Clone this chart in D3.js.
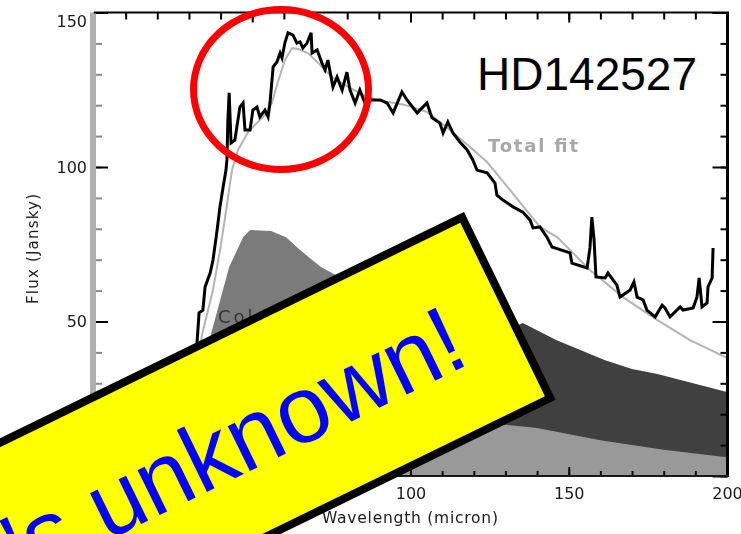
<!DOCTYPE html>
<html>
<head>
<meta charset="utf-8">
<script src="https://cdn.jsdelivr.net/npm/d3@7"></script>
<style>
  html, body { margin: 0; padding: 0; background: #fff; }
  svg { display: block; }
</style>
</head>
<body>
<svg id="chart" width="741" height="534"></svg>
<script>
// Observed far-infrared spectrum of HD142527 (wavelength in micron, flux in Jansky)
const specWave = [30, 32, 33.2, 34.4, 35.1, 36.7, 37.6, 38.9, 39.8, 40.8, 41.7, 42.0, 42.3, 42.7, 43.3, 44.5, 46.1, 47.1, 47.7, 49.3,
  50.2, 51.5, 52.4, 54.0, 55.0, 55.6, 56.6, 57.8, 58.8, 59.4, 60.3, 61.3, 62.9, 64.1, 65.1, 66.0, 67.3, 68.6, 68.9, 70.5,
  72.0, 73.0, 73.9, 75.5, 76.8, 78.4, 79.9, 80.9, 82.5, 84.0, 85.6, 87.8, 90.4, 92.6, 94.5, 97.3, 98.9, 102.1, 105.2, 106.8,
  109.3, 110.3, 111.8, 113.4, 115.6, 117.9, 119.7, 121.0, 124.2, 126.7, 127.3, 129.2, 132.4, 135.5, 137.8, 138.7, 140.9, 143.1, 144.7, 150.4,
  151.0, 155.8, 156.7, 157.3, 158.0, 158.6, 161.5, 162.4, 165.2, 166.2, 169.4, 170.6, 171.6, 173.5, 174.7, 177.3, 179.5, 180.4, 182.0, 185.2,
  186.1, 189.3, 190.5, 191.2, 192.1, 193.7, 194.0, 195.3, 195.6];
const specFlux = [15, 35, 52.8, 53.7, 61.2, 65.7, 69.9, 79.6, 87.1, 93.5, 99.0, 102.3, 115.2, 124.0, 107.8, 108.7, 119.4, 120.7, 112.0, 112.0,
  118.4, 119.4, 116.2, 118.4, 116.2, 120.7, 132.4, 134.0, 136.9, 135.3, 140.1, 143.4, 142.7, 140.1, 140.5, 138.5, 140.1, 143.4, 136.9, 137.9,
  133.7, 131.4, 134.6, 125.9, 129.1, 124.9, 130.7, 124.9, 120.7, 124.9, 120.7, 121.7, 121.7, 120.7, 117.5, 124.3, 121.7, 117.5, 120.7, 115.9,
  114.2, 111.0, 114.6, 111.0, 108.1, 105.5, 102.3, 99.0, 98.1, 94.8, 90.9, 89.3, 87.1, 85.4, 82.8, 80.3, 80.6, 77.3, 74.1, 72.2,
  68.9, 67.3, 73.8, 83.8, 76.4, 64.4, 64.1, 65.7, 61.8, 57.9, 60.2, 62.8, 57.9, 57.0, 53.7, 51.5, 55.3, 54.4, 51.5, 54.7,
  53.7, 54.4, 57.9, 64.1, 54.7, 56.0, 61.2, 64.1, 73.8];

// Model: total fit and its dust components
const fitWave = [30, 34.1, 37.6, 40.1, 42.0, 43.6, 45.5, 48.7, 51.8, 54.0, 56.2, 58.1, 60.3, 62.6, 64.5, 67.6, 70.8, 75.2, 80.3, 85.6,
  90.4, 95.1, 99.8, 105.2, 112.5, 118.8, 124.2, 131.4, 140.9, 146.3, 156.7, 167.1, 177.9, 188.3, 200];
const fitFlux = [20, 45.6, 60.2, 74.8, 87.7, 99.0, 105.5, 111.3, 114.6, 116.8, 120.7, 127.5, 134.6, 138.5, 138.2, 136.9, 133.7, 129.1, 125.9, 123.0,
  121.4, 120.7, 119.7, 117.8, 112.0, 106.5, 101.6, 92.6, 80.6, 77.3, 66.7, 57.9, 50.5, 44.0, 38.2];

const coldWave = [30, 33, 37, 42.7, 47.1, 49.3, 55.9, 60.7, 65.1, 71.7, 75.2, 90, 110, 130, 150, 200];
const coldFlux = [0, 25, 46, 67.6, 77.3, 79.6, 79.3, 77.3, 73.1, 67.6, 65.7, 58, 50, 43, 37, 24];

const warmWave = [30, 40, 50, 60, 80, 100, 120, 134, 135.5, 146, 156.7, 161.5, 170, 178, 200];
const warmFlux = [0, 6, 16, 25, 38, 46, 50, 48.9, 49.5, 44, 39.5, 37.5, 34.6, 33, 27.2];

const baseWave = [30, 40, 60, 80, 100, 124, 140, 160, 180, 200];
const baseFlux = [0, 4, 12, 17, 19, 17.2, 15.5, 11.6, 8.5, 6.1];

// Axis ticks
const xMinorTicks = d3.range(0, 201, 10);
const xMajorTicks = [0, 50, 100, 150, 200];
const yMinorTicks = d3.range(0, 151, 10);
const yMajorTicks = [0, 50, 100, 150];

const zip = (w, f) => w.map((v, i) => [v, f[i]]);

const svg = d3.select("#chart");
const x = d3.scaleLinear().domain([0, 200]).range([94, 727]);
const y = d3.scaleLinear().domain([0, 150]).range([476, 12.5]);

const defs = svg.append("defs");
defs.append("clipPath").attr("id", "plot")
  .append("rect").attr("x", 94).attr("y", 12.5).attr("width", 633).attr("height", 463.5);
defs.append("filter").attr("id", "soft")
  .append("feGaussianBlur").attr("stdDeviation", 0.45);

const plot = svg.append("g").attr("clip-path", "url(#plot)");

const area = d3.area().x(d => x(d[0])).y0(y(0)).y1(d => y(d[1]));
const line = d3.line().x(d => x(d[0])).y(d => y(d[1]));

plot.append("path").datum(zip(coldWave, coldFlux)).attr("d", area).attr("fill", "#7b7b7b");
plot.append("path").datum(zip(warmWave, warmFlux)).attr("d", area).attr("fill", "#404040");
plot.append("path").datum(zip(baseWave, baseFlux)).attr("d", area).attr("fill", "#999999");

plot.append("path").datum(zip(fitWave, fitFlux)).attr("d", line)
  .attr("fill", "none").attr("stroke", "#b4b4b4").attr("stroke-width", 2);
plot.append("path").datum(zip(specWave, specFlux)).attr("d", line)
  .attr("fill", "none").attr("stroke", "#000").attr("stroke-width", 3)
  .attr("stroke-linejoin", "miter");

// Axes
function styleAxis(g, color, width) {
  g.select(".domain").remove();
  g.selectAll(".tick line").attr("stroke", color).attr("stroke-width", width);
}

// top
svg.append("g").attr("transform", "translate(0,12.5)")
  .call(d3.axisBottom(x).tickValues(xMinorTicks).tickSize(7).tickFormat(""))
  .call(g => styleAxis(g, "#000", 2));
svg.append("g").attr("transform", "translate(0,12.5)")
  .call(d3.axisBottom(x).tickValues(xMajorTicks).tickSize(10).tickFormat(""))
  .call(g => styleAxis(g, "#000", 2));
// bottom
svg.append("g").attr("transform", "translate(0,476)")
  .call(d3.axisTop(x).tickValues(xMinorTicks).tickSize(5).tickFormat(""))
  .call(g => styleAxis(g, "#111", 2));
svg.append("g").attr("transform", "translate(0,476)")
  .call(d3.axisTop(x).tickValues(xMajorTicks).tickSize(9).tickFormat(""))
  .call(g => styleAxis(g, "#111", 2));
svg.append("g").attr("transform", "translate(0,476)")
  .call(d3.axisBottom(x).tickValues(xMajorTicks).tickSize(0).tickPadding(12))
  .call(g => {
    g.select(".domain").remove();
    g.selectAll("text").attr("font-family", "DejaVu Sans").attr("font-size", 16)
      .attr("fill", "#1a1a1a").attr("filter", "url(#soft)");
  });
// left
svg.append("g").attr("transform", "translate(94,0)")
  .call(d3.axisRight(y).tickValues(yMinorTicks).tickSize(8).tickFormat(""))
  .call(g => styleAxis(g, "#8a8a8a", 2));
svg.append("g").attr("transform", "translate(94,0)")
  .call(d3.axisLeft(y).tickValues(yMajorTicks).tickSizeInner(-14).tickSizeOuter(0).tickPadding(7))
  .call(g => {
    styleAxis(g, "#000", 2);
    g.selectAll("text").attr("font-family", "DejaVu Sans").attr("font-size", 16)
      .attr("fill", "#1a1a1a").attr("filter", "url(#soft)")
      .attr("dy", d => d === 150 ? "0.85em" : "0.32em");
  });
// right
svg.append("g").attr("transform", "translate(727.5,0)")
  .call(d3.axisLeft(y).tickValues(yMinorTicks).tickSize(7).tickFormat(""))
  .call(g => styleAxis(g, "#000", 2));
svg.append("g").attr("transform", "translate(727.5,0)")
  .call(d3.axisLeft(y).tickValues(yMajorTicks).tickSize(15).tickFormat(""))
  .call(g => styleAxis(g, "#000", 2));

// frame lines
svg.append("line").attr("x1", 93).attr("x2", 93).attr("y1", 12.5).attr("y2", 476)
  .attr("stroke", "#b0b0b0").attr("stroke-width", 6);
svg.append("line").attr("x1", 94).attr("x2", 729).attr("y1", 12.5).attr("y2", 12.5)
  .attr("stroke", "#000").attr("stroke-width", 2);
svg.append("line").attr("x1", 727.5).attr("x2", 727.5).attr("y1", 12).attr("y2", 477)
  .attr("stroke", "#000").attr("stroke-width", 3);
svg.append("line").attr("x1", 94).attr("x2", 729).attr("y1", 476).attr("y2", 476)
  .attr("stroke", "#1a1a1a").attr("stroke-width", 2);

// axis titles and labels
svg.append("text").attr("x", 410).attr("y", 523).attr("text-anchor", "middle")
  .attr("font-family", "DejaVu Sans").attr("font-size", 15.5)
  .attr("textLength", 176).attr("lengthAdjust", "spacing")
  .attr("fill", "#1a1a1a").attr("filter", "url(#soft)")
  .text("Wavelength (micron)");
svg.append("text").attr("transform", "translate(38,249) rotate(-90)").attr("text-anchor", "middle")
  .attr("font-family", "DejaVu Sans").attr("font-size", 15)
  .attr("textLength", 110).attr("lengthAdjust", "spacing")
  .attr("fill", "#1a1a1a").attr("filter", "url(#soft)")
  .text("Flux (Jansky)");
svg.append("text").attr("x", 488).attr("y", 152)
  .attr("font-family", "DejaVu Sans").attr("font-size", 18).attr("font-weight", "bold")
  .attr("textLength", 90).attr("lengthAdjust", "spacing")
  .attr("fill", "#a8a8a8").attr("filter", "url(#soft)")
  .text("Total  fit");
svg.append("text").attr("x", 218).attr("y", 323)
  .attr("font-family", "DejaVu Sans").attr("font-size", 18).attr("letter-spacing", 3)
  .attr("fill", "#333").attr("filter", "url(#soft)")
  .text("Cold");
svg.append("text").attr("x", 697).attr("y", 90).attr("text-anchor", "end")
  .attr("font-family", "Liberation Sans").attr("font-size", 46)
  .attr("fill", "#000")
  .text("HD142527");

// highlight ring around the 40-70 micron feature
svg.append("ellipse").attr("cx", 281).attr("cy", 89.5).attr("rx", 87.5).attr("ry", 80)
  .attr("fill", "none").attr("stroke", "#ff0000").attr("stroke-width", 7);

// banner
const banner = svg.append("g").attr("transform", "translate(464,212) rotate(-26)");
banner.append("rect").attr("x", -800).attr("y", 4).attr("width", 796).attr("height", 201)
  .attr("fill", "#ffff00").attr("stroke", "#000").attr("stroke-width", 8);
banner.append("text").attr("x", -59).attr("y", 139).attr("text-anchor", "end")
  .attr("font-family", "Liberation Sans").attr("font-size", 95)
  .attr("fill", "#0000ff")
  .text("It's unknown!");
</script>
</body>
</html>
